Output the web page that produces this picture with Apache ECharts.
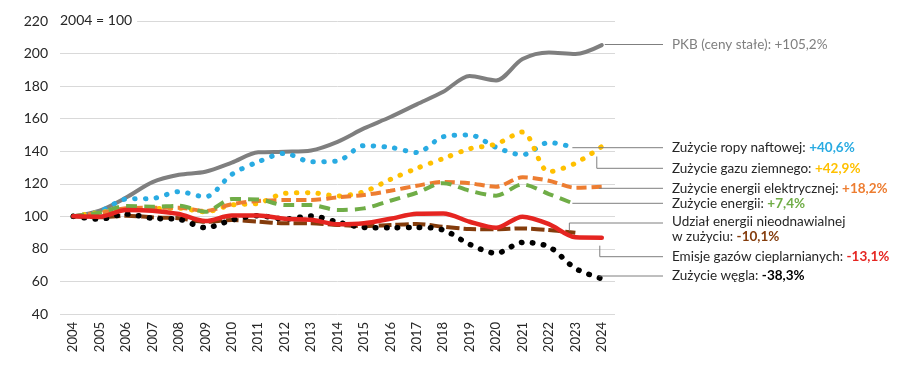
<!DOCTYPE html>
<html><head><meta charset="utf-8">
<script src="https://cdn.jsdelivr.net/npm/echarts@6/dist/echarts.min.js"></script>
<style>html,body{margin:0;padding:0;background:#fff}#c{width:911px;height:372px}</style>
</head><body><div id="c"></div>
<script>
const years = ['2004','2005','2006','2007','2008','2009','2010','2011','2012','2013','2014','2015','2016','2017','2018','2019','2020','2021','2022','2023','2024'];
const gdp       = [100, 103.5, 111.5, 121, 125.5, 127.4, 133, 139.3, 139.7, 140.5, 145.8, 154, 161, 168.8, 176.5, 186.2, 183.5, 196.6, 200.7, 199.7, 205.2];
const oil       = [100, 103, 110.6, 111, 115.1, 112, 125.8, 133.5, 138.7, 133.5, 134, 143.4, 142.4, 139.2, 148.9, 150, 142.4, 137.8, 145.4, 142, null];
const gas       = [100, 102.4, 104, 104.7, 105, 102.8, 107, 108, 114.1, 114.5, 112.5, 115.1, 122.7, 129.5, 135.5, 141.5, 144.4, 151.8, 127.4, 132.6, 142.9];
const elec      = [100, 102, 104.9, 105.3, 105.3, 103.3, 107.5, 109.4, 110, 110, 111.7, 113.1, 115.7, 118.8, 121.1, 120.3, 118.2, 124, 121.9, 117.6, 118.2];
const energy    = [100, 102.2, 106.3, 105.9, 106.5, 102.8, 110.6, 110.4, 106.9, 106.9, 103.9, 104.9, 109.6, 114.5, 120.4, 115.7, 112.7, 119.6, 113.7, 107.4, null];
const nonRenew  = [100, 99.4, 100.4, 99.4, 98.8, 96.7, 97.7, 96.7, 95.7, 95.7, 94.7, 94, 94.7, 95.3, 93.6, 92.2, 92, 92.6, 91.6, 89.9, null];
const emissions = [100, 99.8, 103.9, 103.5, 101.4, 97.1, 100.5, 100.5, 98.5, 97.9, 95.1, 95.7, 98.5, 101.6, 101.8, 96.7, 93, 99.8, 95.2, 87.1, 86.9];
const coal      = [100, 98.3, 101.4, 98.8, 98.2, 93, 97.7, 100.4, 98.3, 100.2, 96.5, 93.2, 93, 93.2, 91.6, 82.8, 77.3, 84, 81.3, 68, 61.7];

const labelNames = ['PKB (ceny stałe): ', 'Zużycie ropy naftowej: ', 'Zużycie gazu ziemnego: ', 'Zużycie energii elektrycznej: ', 'Zużycie energii: ', 'Udział energii nieodnawialnej\nw zużyciu: ', 'Emisje gazów cieplarnianych: ', 'Zużycie węgla: '];
const labelValues = ['+105,2%', '+40,6%', '+42,9%', '+18,2%', '+7,4%', '-10,1%', '-13,1%', '-38,3%'];

const C = {gray:'#7f7f7f', blue:'#29abe2', yellow:'#ffc000', orange:'#ed7d31', green:'#70ad47', brown:'#843c0c', red:'#e52521', black:'#000000'};

const chart = echarts.init(document.getElementById('c'), null, {renderer:'canvas'});
function ser(name, data, color, width, type, cap) {
  return {name, type:'line', data, symbol:'none', smooth:0.3, connectNulls:false,
    lineStyle:{color, width, type, cap: cap || 'butt'}, emphasis:{disabled:true}};
}
const series = [
  ser('gdp', gdp, C.gray, 4, 'solid', 'round'),
  ser('oil', oil, C.blue, 5, [0.5, 10.3], 'round'),
  ser('gas', gas, C.yellow, 5, [0.5, 10.3], 'round'),
  ser('elec', elec, C.orange, 4, [10, 5]),
  ser('energy', energy, C.green, 4, [11, 7]),
  ser('nonRenew', nonRenew, C.brown, 4, [13, 4]),
  ser('coal', coal, C.black, 5.5, [0.5, 10.5], 'round'),
  ser('emissions', emissions, C.red, 4.5, 'solid', 'round')
];
chart.setOption({
  animation:false,
  grid:{left:60, right:296, top:21, bottom:58, containLabel:false},
  xAxis:{type:'category', data:years, boundaryGap:true,
    axisLine:{show:false}, axisTick:{show:false},
    axisLabel:{rotate:90, fontFamily:'Lato', fontSize:13, color:'#262626', margin:8}},
  yAxis:{type:'value', min:40, max:220, interval:20,
    axisLine:{show:false}, axisTick:{show:false},
    splitLine:{lineStyle:{color:'#d9d9d9', width:1}},
    axisLabel:{fontFamily:'Lato', fontSize:14, color:'#262626', margin:12}},
  series
});

// annotations: leaders from series ends to the labels
const labelX = 672, leaderEnd = 663;
const labelY = [44.5, 147.7, 168.3, 188.3, 203.3, 229, 256.7, 276];
const seriesIdx = [0, 1, 2, 3, 4, 5, 7, 6];
const valColors = ['#7f7f7f', C.blue, C.yellow, C.orange, C.green, C.brown, C.red, '#000'];
const dataArr = [gdp, oil, gas, elec, energy, nonRenew, emissions, coal];
function lastPoint(arr){ for(let i=arr.length-1;i>=0;i--) if(arr[i]!=null) return [i, arr[i]]; }
const g = [];
g.push({type:'text', left:60, top:13, z:100, style:{text:'2004 = 100', fontFamily:'Lato', fontSize:14, fill:'#262626', backgroundColor:'#fff', padding:[0,5,0,0]}});
for (let k=0;k<8;k++){
  const lp = lastPoint(dataArr[k]);
  const p = chart.convertToPixel({seriesIndex:seriesIdx[k]}, lp);
  const ly = labelY[k];
  let pts;
  if (k===2) pts = [[p[0]-5, p[1]+10],[p[0]-5, ly],[leaderEnd, ly]];
  else if (k===6) pts = [[p[0]-2, p[1]+8],[p[0]-2, ly],[leaderEnd, ly]];
  else if (k===5) pts = [[p[0]-6, p[1]-2],[p[0]-6, ly-6],[leaderEnd, ly-6]];
  else if (k===0) pts = [[p[0]+3, ly],[leaderEnd, ly]];
  else pts = [[p[0]-3, ly],[leaderEnd, ly]];
  g.push({type:'polyline', z:100, shape:{points:pts}, style:{stroke:'#7f7f7f', lineWidth:1, fill:null}});
  const isMulti = k===5;
  const nameParts = labelNames[k].split('\n');
  let txt;
  if (isMulti) txt = '{n|' + nameParts[0] + '}\n{n|' + nameParts[1] + '}{v|' + labelValues[k] + '}';
  else txt = '{n|' + labelNames[k] + '}{v|' + labelValues[k] + '}';
  g.push({type:'text', z:100, x:labelX, y: ly, style:{
    text: txt, verticalAlign:'middle', align:'left',
    rich:{
      n:{fontFamily:'Lato', fontSize:13.5, fill: k===0 ? '#7f7f7f' : '#262626', lineHeight:15},
      v:{fontFamily:'Lato', fontSize:13.5, fontWeight: k===0 ? 'normal' : 'bold', fill: valColors[k], lineHeight:15}
    }}});
}
chart.setOption({graphic: g});
</script>
</body></html>
